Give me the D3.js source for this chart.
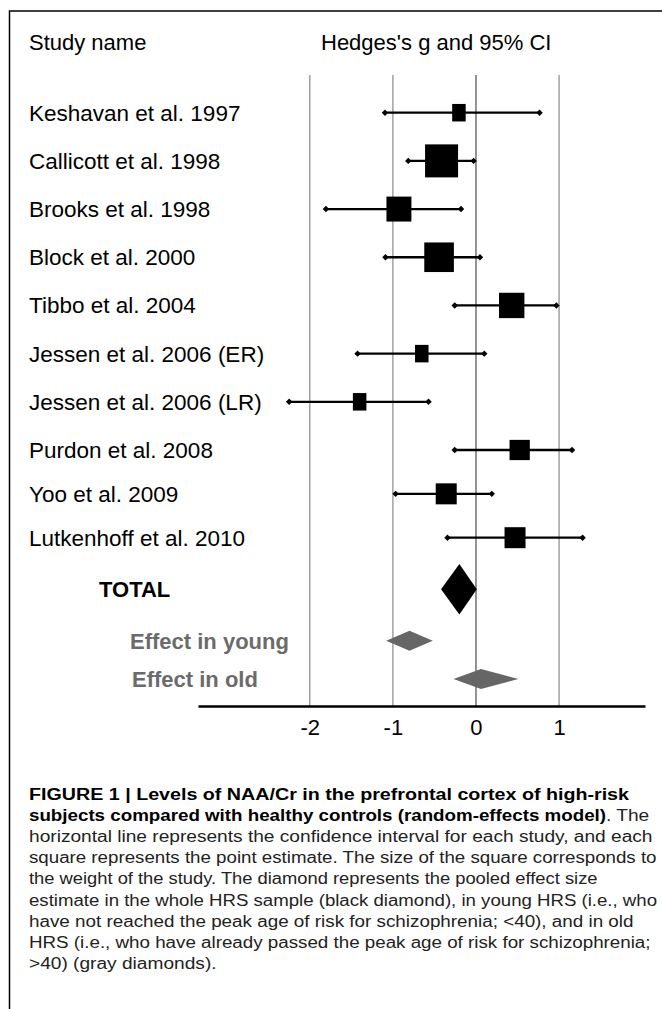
<!DOCTYPE html>
<html>
<head>
<meta charset="utf-8">
<script src="https://cdn.jsdelivr.net/npm/d3@7"></script>
<style>
  html, body { margin: 0; padding: 0; background: #fff; }
  svg { display: block; }
</style>
</head>
<body>
<script>
// ---- data ----
const studies = [
  "Keshavan et al. 1997",
  "Callicott et al. 1998",
  "Brooks et al. 1998",
  "Block et al. 2000",
  "Tibbo et al. 2004",
  "Jessen et al. 2006 (ER)",
  "Jessen et al. 2006 (LR)",
  "Purdon et al. 2008",
  "Yoo et al. 2009",
  "Lutkenhoff et al. 2010"
];
const estimates = [-0.205, -0.414, -0.927, -0.444, 0.43, -0.652, -1.40, 0.526, -0.358, 0.47];
const lowerCI   = [-1.095, -0.815, -1.806, -1.089, -0.256, -1.425, -2.248, -0.256, -0.967, -0.343];
const upperCI   = [0.765, -0.028, -0.18, 0.048, 0.968, 0.10, -0.571, 1.156, 0.19, 1.283];
const weights   = [3.6, 21.5, 12.3, 17.3, 12.7, 3.6, 3.6, 8.1, 8.7, 8.7];

const summaryLabels = ["TOTAL", "Effect in young", "Effect in old"];
const summaryEst    = [-0.20, -0.80, 0.06];
const summaryLower  = [-0.42, -1.08, -0.27];
const summaryUpper  = [0.01, -0.52, 0.51];

const tickValues = [-2, -1, 0, 1];
const headerLeft = "Study name";
const headerRight = "Hedges's g and 95% CI";

const captionLines = [
  "FIGURE 1 | Levels of NAA/Cr in the prefrontal cortex of high-risk",
  "subjects compared with healthy controls (random-effects model)",
  "horizontal line represents the confidence interval for each study, and each",
  "square represents the point estimate. The size of the square corresponds to",
  "the weight of the study. The diamond represents the pooled effect size",
  "estimate in the whole HRS sample (black diamond), in young HRS (i.e., who",
  "have not reached the peak age of risk for schizophrenia; <40), and in old",
  "HRS (i.e., who have already passed the peak age of risk for schizophrenia;",
  ">40) (gray diamonds)."
];
const captionTail = ". The";

// ---- layout ----
const W = 662, H = 1009;
const svg = d3.select("body").append("svg").attr("width", W).attr("height", H);
const font = "'Liberation Sans', Arial, Helvetica, sans-serif";

// frame
svg.append("path")
  .attr("d", `M9.5,${H} L9.5,11 L${W},11`)
  .attr("fill", "none").attr("stroke", "#000").attr("stroke-width", 1.5);

const x = d3.scaleLinear().domain([-3.345, 2.034]).range([198, 645]);
const y = d3.scaleLinear().domain([0, 7, 9, 11, 12]).range([112.7, 450, 537.7, 640.7, 679]);
const side = d3.scaleSqrt().domain([0, 21.5]).range([0, 33]);
const axisY = 706, gridTop = 75;

// headers
svg.append("text").attr("x", 29).attr("y", 50).text(headerLeft)
  .attr("font-family", font).attr("font-size", 22).attr("fill", "#000");
svg.append("text").attr("x", 321).attr("y", 50).text(headerRight)
  .attr("font-family", font).attr("font-size", 22).attr("fill", "#000");

// gridlines
svg.append("g").selectAll("line").data(tickValues).join("line")
  .attr("x1", d => x(d)).attr("x2", d => x(d))
  .attr("y1", gridTop).attr("y2", axisY)
  .attr("stroke", d => d === 0 ? "#666" : "#9a9a9a")
  .attr("stroke-width", 1.4);

// axis
const axis = d3.axisBottom(x).tickValues(tickValues).tickSize(0).tickPadding(13)
  .tickFormat(d => String(d));
const gAxis = svg.append("g").attr("transform", `translate(0,${axisY})`).call(axis);
gAxis.select(".domain").attr("stroke", "#000").attr("stroke-width", 2.6);
gAxis.selectAll("text").attr("font-family", font).attr("font-size", 22).attr("fill", "#000");

// study rows
const rows = studies.map((s, i) => ({ name: s, est: estimates[i], lo: lowerCI[i], hi: upperCI[i], w: weights[i], i }));

svg.append("g").selectAll("text").data(rows).join("text")
  .attr("x", 29).attr("y", d => y(d.i) + 8)
  .attr("font-family", font).attr("font-size", 22.5).attr("fill", "#000")
  .text(d => d.name);

const gRows = svg.append("g");
gRows.selectAll("line").data(rows).join("line")
  .attr("x1", d => x(d.lo)).attr("x2", d => x(d.hi))
  .attr("y1", d => y(d.i)).attr("y2", d => y(d.i))
  .attr("stroke", "#000").attr("stroke-width", 2.3);

const capSize = 3.2;
const caps = rows.flatMap(d => [{ v: d.lo, i: d.i }, { v: d.hi, i: d.i }]);
gRows.selectAll("path.cap").data(caps).join("path").attr("class", "cap")
  .attr("d", d => {
    const cx = x(d.v), cy = y(d.i);
    return `M${cx - capSize},${cy} L${cx},${cy - capSize} L${cx + capSize},${cy} L${cx},${cy + capSize} Z`;
  })
  .attr("fill", "#000");

gRows.selectAll("rect").data(rows).join("rect")
  .attr("x", d => x(d.est) - side(d.w) / 2)
  .attr("width", d => side(d.w))
  .attr("y", d => y(d.i) - Math.max(side(d.w), 17.5) / 2)
  .attr("height", d => Math.max(side(d.w), 17.5))
  .attr("fill", "#000");

// summary diamonds
const summary = summaryLabels.map((s, k) => ({
  name: s, est: summaryEst[k], lo: summaryLower[k], hi: summaryUpper[k], i: studies.length + k, k
}));
const sumStyle = [
  { half: 25.3, color: "#000", textColor: "#000", tx: 99 },
  { half: 10, color: "#666", textColor: "#6b6b6b", tx: 130 },
  { half: 10, color: "#666", textColor: "#6b6b6b", tx: 132 }
];

svg.append("g").selectAll("path").data(summary).join("path")
  .attr("d", d => {
    const cy = y(d.i), h = sumStyle[d.k].half;
    return `M${x(d.lo)},${cy} L${x(d.est)},${cy - h} L${x(d.hi)},${cy} L${x(d.est)},${cy + h} Z`;
  })
  .attr("fill", d => sumStyle[d.k].color);

svg.append("g").selectAll("text").data(summary).join("text")
  .attr("x", d => sumStyle[d.k].tx).attr("y", d => y(d.i) + 8)
  .attr("font-family", font).attr("font-size", 22).attr("font-weight", "bold")
  .attr("fill", d => sumStyle[d.k].textColor)
  .text(d => d.name);

// caption
const capX = 29, capY0 = 800, capStep = 21.1;
const capWidths = [600, 577, 623.5, 627.5, 568.5, 628, 604.5, 621.5, null];
const capG = svg.append("g").attr("font-family", font).attr("font-size", 16).attr("fill", "#1a1a1a");
const capNodes = captionLines.map((line, i) =>
  capG.append("text")
    .attr("x", capX).attr("y", capY0 + i * capStep)
    .attr("font-weight", i < 2 ? "bold" : "normal")
    .attr("fill", i < 2 ? "#000" : "#222")
    .text(line)
);
// horizontal stretch factor of the caption face, taken from the widest regular line
const stretch = capWidths[2] / capNodes[2].node().getComputedTextLength();
capNodes.forEach((t, i) => {
  const target = capWidths[i] != null ? capWidths[i] : t.node().getComputedTextLength() * stretch;
  t.attr("textLength", target).attr("lengthAdjust", "spacingAndGlyphs");
});
const tail = capG.append("text")
  .attr("x", capX + capWidths[1]).attr("y", capY0 + capStep)
  .attr("fill", "#222")
  .text(captionTail);
tail.attr("textLength", tail.node().getComputedTextLength() * stretch).attr("lengthAdjust", "spacingAndGlyphs");
</script>
</body>
</html>
